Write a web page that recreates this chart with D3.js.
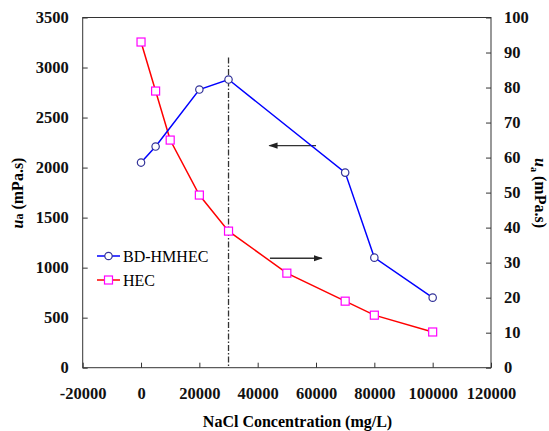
<!DOCTYPE html>
<html>
<head>
<meta charset="utf-8">
<script src="https://cdn.jsdelivr.net/npm/d3@7"></script>
<style>
  body { margin: 0; background: #fff; }
  svg text { font-family: "Liberation Serif", "Times New Roman", serif; }
</style>
</head>
<body>
<div id="chart"></div>
<script>
// values
var conc = [0, 5000, 20000, 30000, 70000, 80000, 100000]
var hmhec = [2050, 2210, 2780, 2880, 1950, 1100, 700]
var hecConc = [0, 5000, 10000, 20000, 30000, 50000, 70000, 80000, 100000]
var hec = [93, 79, 65, 49.3, 39, 27, 19, 15, 10.2]
var xTicks = [-20000, 0, 20000, 40000, 60000, 80000, 100000, 120000]
var leftTicks = [0, 500, 1000, 1500, 2000, 2500, 3000, 3500]
var rightTicks = [0, 10, 20, 30, 40, 50, 60, 70, 80, 90, 100]
var refX = 30000, refTop = 3100
var arrowLeft = [[60000, 2220], [44000, 2220]]   // points to left axis
var arrowRight = [[44200, 1094], [62000, 1094]] // points to right axis

var svgW = 549, svgH = 431
var margins = {left: 82.7, right: 58, top: 17.5, bottom: 63.3}
var chartW = svgW - margins.left - margins.right
var chartH = svgH - margins.top - margins.bottom

var svg = d3.select('#chart').append('svg')
    .attr('width', svgW)
    .attr('height', svgH)
var chart = svg.append('g')
    .attr('transform', `translate(${margins.left},${margins.top})`)

var xscale = d3.scaleLinear().domain([-20000, 120000]).range([0, chartW])
var yleft = d3.scaleLinear().domain([0, 3500]).range([chartH, 0])
var yright = d3.scaleLinear().domain([0, 100]).range([chartH, 0])

var plain = d => String(d)
var frameColor = '#333'
function styleAxis(g) {
    g.select('.domain').remove()
    g.selectAll('.tick line').attr('stroke', frameColor)
    g.selectAll('.tick text')
        .attr('font-size', '16.5px')
        .attr('font-weight', 'bold')
        .attr('fill', '#111')
}

chart.append('g')
    .attr('transform', `translate(0,${chartH})`)
    .call(d3.axisBottom(xscale).tickValues(xTicks).tickSizeInner(-5).tickPadding(20).tickFormat(plain))
    .call(styleAxis)
chart.append('g')
    .call(d3.axisLeft(yleft).tickValues(leftTicks).tickSizeInner(-5).tickPadding(14).tickFormat(plain))
    .call(styleAxis)
chart.append('g')
    .attr('transform', `translate(${chartW},0)`)
    .call(d3.axisRight(yright).tickValues(rightTicks).tickSizeInner(-5).tickPadding(13).tickFormat(plain))
    .call(styleAxis)
chart.selectAll('.tick text').attr('font-family', '"Liberation Serif", "Times New Roman", serif')

// frame
chart.append('rect')
    .attr('width', chartW).attr('height', chartH)
    .attr('fill', 'none').attr('stroke', frameColor).attr('stroke-width', 1)

// reference line
chart.append('line')
    .attr('x1', xscale(refX)).attr('x2', xscale(refX))
    .attr('y1', yleft(refTop)).attr('y2', yleft(0))
    .attr('stroke', '#333').attr('stroke-width', 1.3)
    .attr('stroke-dasharray', '6,2,1.5,2')

// arrows
var defs = svg.append('defs')
defs.append('marker')
    .attr('id', 'arr').attr('viewBox', '0 0 10 10')
    .attr('refX', 9).attr('refY', 5)
    .attr('markerWidth', 7).attr('markerHeight', 7)
    .attr('orient', 'auto')
    .append('path').attr('d', 'M0,1.5L10,5L0,8.5Z').attr('fill', '#222')
chart.append('line')
    .attr('x1', xscale(arrowLeft[0][0])).attr('y1', yleft(arrowLeft[0][1]))
    .attr('x2', xscale(arrowLeft[1][0])).attr('y2', yleft(arrowLeft[1][1]))
    .attr('stroke', '#333').attr('stroke-width', 1.3).attr('marker-end', 'url(#arr)')
chart.append('line')
    .attr('x1', xscale(arrowRight[0][0])).attr('y1', yleft(arrowRight[0][1]))
    .attr('x2', xscale(arrowRight[1][0])).attr('y2', yleft(arrowRight[1][1]))
    .attr('stroke', '#333').attr('stroke-width', 1.3).attr('marker-end', 'url(#arr)')

// HEC (right axis)
var hecLine = d3.line().x((d, i) => xscale(hecConc[i])).y(d => yright(d))
chart.append('path').datum(hec)
    .attr('d', hecLine).attr('fill', 'none')
    .attr('stroke', '#ff0000').attr('stroke-width', 1.5)
chart.selectAll('.sq').data(hec).enter().append('rect')
    .attr('x', (d, i) => xscale(hecConc[i]) - 4)
    .attr('y', d => yright(d) - 4)
    .attr('width', 8).attr('height', 8)
    .attr('fill', '#fff').attr('stroke', '#ff00ff').attr('stroke-width', 1.2)

// BD-HMHEC (left axis)
var hmLine = d3.line().x((d, i) => xscale(conc[i])).y(d => yleft(d))
chart.append('path').datum(hmhec)
    .attr('d', hmLine).attr('fill', 'none')
    .attr('stroke', '#0000ff').attr('stroke-width', 1.5)
chart.selectAll('.circ').data(hmhec).enter().append('circle')
    .attr('cx', (d, i) => xscale(conc[i]))
    .attr('cy', d => yleft(d))
    .attr('r', 3.7)
    .attr('fill', '#fff').attr('stroke', '#333399').attr('stroke-width', 1.2)

// legend
var leg = svg.append('g')
leg.append('line').attr('x1', 97).attr('x2', 120).attr('y1', 256).attr('y2', 256)
    .attr('stroke', '#0000ff').attr('stroke-width', 1.5)
leg.append('circle').attr('cx', 108.5).attr('cy', 256).attr('r', 3.7)
    .attr('fill', '#fff').attr('stroke', '#333399').attr('stroke-width', 1.2)
leg.append('text').attr('x', 123).attr('y', 261.5).attr('font-size', '16px').text('BD-HMHEC')
leg.append('line').attr('x1', 97).attr('x2', 120).attr('y1', 280).attr('y2', 280)
    .attr('stroke', '#ff0000').attr('stroke-width', 1.5)
leg.append('rect').attr('x', 104.5).attr('y', 276).attr('width', 8).attr('height', 8)
    .attr('fill', '#fff').attr('stroke', '#ff00ff').attr('stroke-width', 1.2)
leg.append('text').attr('x', 123).attr('y', 285.5).attr('font-size', '16px').text('HEC')

// axis titles
svg.append('text')
    .attr('x', 297.5).attr('y', 427)
    .attr('text-anchor', 'middle')
    .attr('font-size', '16px').attr('font-weight', 'bold')
    .text('NaCl Concentration (mg/L)')

var lt = svg.append('text')
    .attr('transform', 'translate(23,193) rotate(-90)')
    .attr('text-anchor', 'middle')
    .attr('font-size', '16px').attr('font-weight', 'bold')
lt.append('tspan').attr('font-style', 'italic').text('u')
lt.append('tspan').attr('font-size', '12px').text('a')
lt.append('tspan').text(' (mPa.s)')

var rt = svg.append('text')
    .attr('transform', 'translate(535,193) rotate(90)')
    .attr('text-anchor', 'middle')
    .attr('font-size', '16px').attr('font-weight', 'bold')
rt.append('tspan').attr('font-style', 'italic').text('u')
rt.append('tspan').attr('font-size', '10px').attr('dy', 4).text('a')
rt.append('tspan').attr('dy', -4).text(' (mPa.s)')
</script>
</body>
</html>
